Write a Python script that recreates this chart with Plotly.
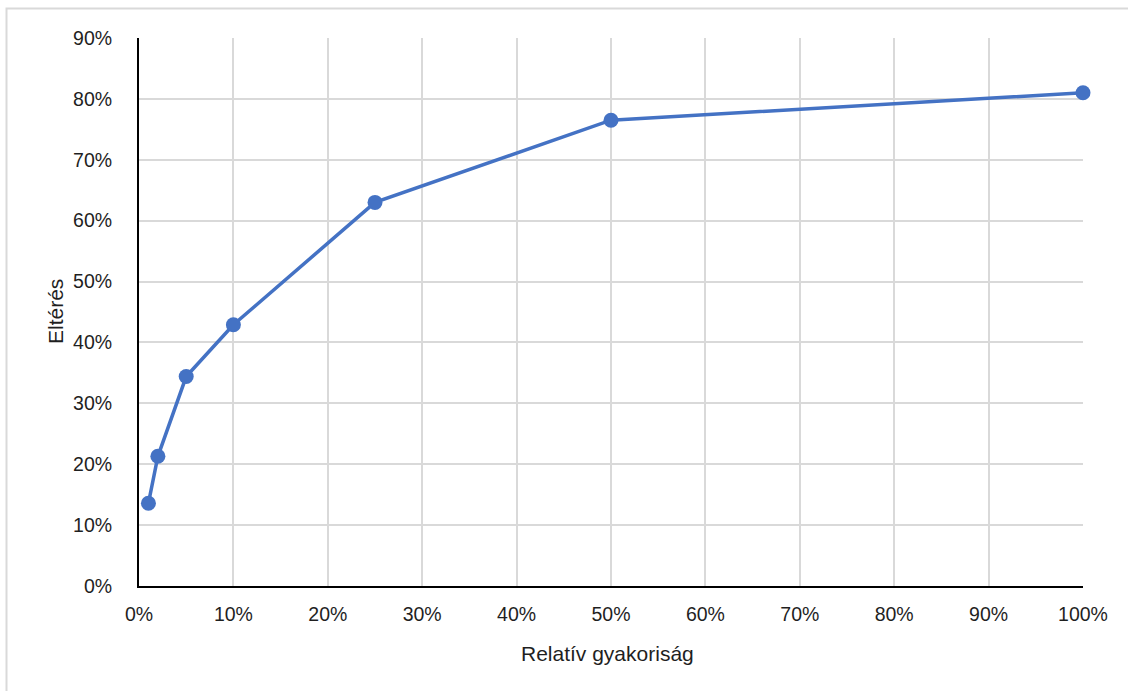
import plotly.graph_objects as go

# Relative frequency (%) and the resulting deviation (%)
rel_freq = [1, 2, 5, 10, 25, 50, 100]
deviation = [13.6, 21.3, 34.4, 42.9, 63.0, 76.5, 81.0]

x_title = "Relatív gyakoriság"
y_title = "Eltérés"

FONT = "Liberation Sans, Arial, sans-serif"
BLUE = "#4472C4"
GRID = "#D9D9D9"
TEXT = "#1f1f1f"

fig = go.Figure(
    go.Scatter(
        x=rel_freq,
        y=deviation,
        mode="lines+markers",
        line=dict(color=BLUE, width=3.5),
        marker=dict(color=BLUE, size=15),
        cliponaxis=False,
        showlegend=False,
    )
)

axis_common = dict(
    showgrid=True,
    gridcolor=GRID,
    gridwidth=2,
    zeroline=False,
    showline=True,
    linecolor="black",
    linewidth=2,
    ticks="",
    ticksuffix="%",
    tickfont=dict(family=FONT, size=19.5, color=TEXT),
    dtick=10,
    tick0=0,
)

fig.update_xaxes(range=[0, 100], ticklabelstandoff=10, **axis_common)
fig.update_yaxes(range=[0, 90], ticklabelstandoff=21, **axis_common)

fig.update_layout(
    width=1128,
    height=691,
    margin=dict(l=139, r=45, t=38, b=105),
    paper_bgcolor="white",
    plot_bgcolor="white",
    annotations=[
        dict(
            text=x_title, xref="paper", yref="paper",
            x=(607 - 139) / 944, y=(586 - 653) / 548,
            xanchor="center", yanchor="middle", showarrow=False,
            font=dict(family=FONT, size=21, color=TEXT),
        ),
        dict(
            text=y_title, xref="paper", yref="paper",
            x=(55 - 139) / 944, y=0.5, textangle=-90,
            xanchor="center", yanchor="middle", showarrow=False,
            font=dict(family=FONT, size=21, color=TEXT),
        ),
    ],
    shapes=[
        dict(
            type="rect", xref="paper", yref="paper",
            x0=(6.5 - 139) / 944, x1=1.2,
            y0=-0.5, y1=(586 - 8.5) / 548,
            line=dict(color=GRID, width=2), layer="below",
        )
    ],
)

fig.write_html("out.html")
